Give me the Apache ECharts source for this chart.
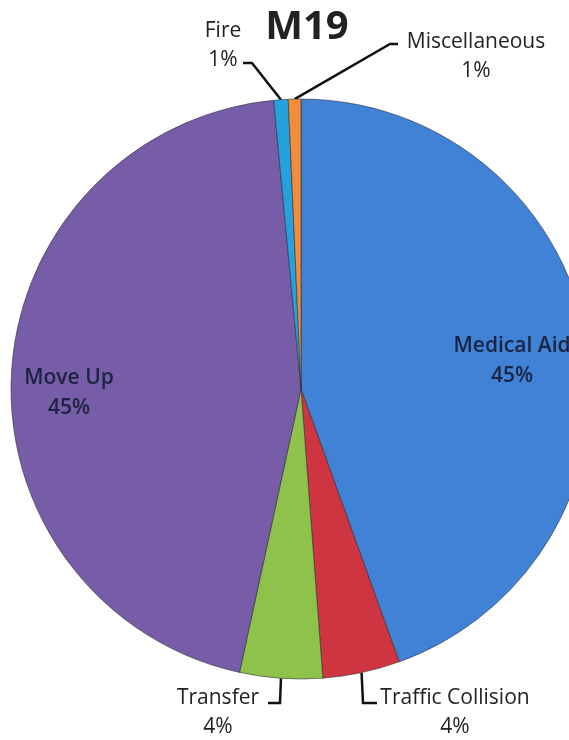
<!DOCTYPE html>
<html>
<head>
<meta charset="utf-8">
<script src="https://cdn.jsdelivr.net/npm/echarts@6/dist/echarts.min.js"></script>
<style>
  html, body { margin: 0; padding: 0; background: #ffffff; }
  #chart { width: 569px; height: 740px; }
</style>
</head>
<body>
<div id="chart"></div>
<script>
// ---- data ----
const chartTitle = 'M19';
const categories = ['Medical Aid', 'Traffic Collision', 'Transfer', 'Move Up', 'Fire', 'Miscellaneous'];
const values = [44.5, 4.3, 4.6, 45.1, 0.8, 0.7];
const percentLabels = ['45%', '4%', '4%', '45%', '1%', '1%'];
const sliceColors = ['#3f82d6', '#cf3540', '#8ec24b', '#775ca8', '#25a2de', '#f08c3a'];

// label placement (layout only)
const insideLabels = { 'Medical Aid': true, 'Move Up': true };
const labelPos = {
  'Medical Aid':       { x: 512, y: 361 },
  'Move Up':           { x: 69,  y: 393 },
  'Fire':              { x: 223, y: 46,  line: [[252, 63], [243, 63]] },
  'Miscellaneous':     { x: 476, y: 57,  line: [[390, 44], [398, 44]] },
  'Transfer':          { x: 218, y: 713, line: [[280, 703], [268, 703]] },
  'Traffic Collision': { x: 455, y: 713, line: [[363, 703], [377, 703]] }
};

const chart = echarts.init(document.getElementById('chart'), null, { renderer: 'canvas' });

const data = categories.map((name, i) => {
  const inside = !!insideLabels[name];
  return {
    name: name,
    value: values[i],
    itemStyle: { color: sliceColors[i] },
    label: inside ? {
      position: 'inside',
      fontSize: 21,
      fontWeight: 600,
      color: '#1b2440',
      lineHeight: 30
    } : {
      position: 'outside',
      fontSize: 21,
      color: '#222222',
      lineHeight: 29
    },
    labelLine: { show: !inside }
  };
});

chart.setOption({
  backgroundColor: '#ffffff',
  animation: false,
  graphic: [{
    type: 'text',
    x: 307,
    y: 28,
    style: {
      text: chartTitle,
      font: 'bold 40px "Open Sans", sans-serif',
      fill: '#222222',
      align: 'center',
      verticalAlign: 'middle'
    }
  }],
  series: [{
    type: 'pie',
    center: [301, 389],
    radius: 290,
    startAngle: 90,
    clockwise: true,
    avoidLabelOverlap: false,
    label: {
      show: true,
      fontFamily: '"Open Sans", sans-serif',
      align: 'center',
      formatter: p => p.name + '\n' + percentLabels[p.dataIndex]
    },
    labelLine: {
      show: true,
      length: 20,
      length2: 10,
      lineStyle: { color: '#111111', width: 2.5 }
    },
    itemStyle: {
      borderColor: 'rgba(40,40,50,0.55)',
      borderWidth: 1
    },
    labelLayout: function (params) {
      const name = categories[params.dataIndex];
      const pos = labelPos[name];
      const out = { x: pos.x, y: pos.y, align: 'center', verticalAlign: 'middle' };
      if (pos.line && params.labelLinePoints) {
        const start = params.labelLinePoints[0];
        out.labelLinePoints = [start, pos.line[0], pos.line[1]];
      }
      return out;
    },
    data: data
  }]
});
</script>
</body>
</html>
